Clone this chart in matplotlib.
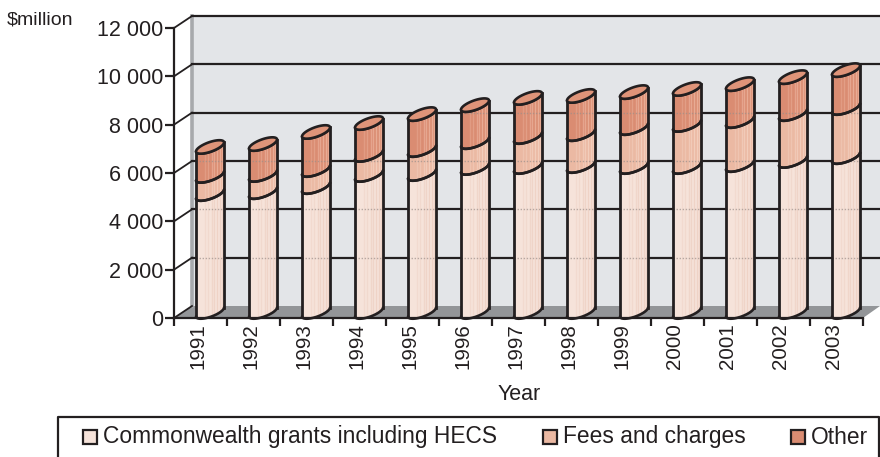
import numpy as np
import matplotlib
matplotlib.use("Agg")
import matplotlib.pyplot as plt
from matplotlib.patches import Polygon, Rectangle

plt.rcParams["font.family"] = ["Liberation Sans", "DejaVu Sans"]

# ── DATA ──────────────────────────────────────────────────────────────────────
years = [1991, 1992, 1993, 1994, 1995, 1996, 1997, 1998, 1999, 2000, 2001, 2002, 2003]
grants = [4880, 4960, 5170, 5670, 5710, 5960, 6000, 6040, 6000, 6000, 6080, 6250, 6410]
fees = [750, 710, 705, 830, 990, 1070, 1240, 1320, 1610, 1740, 1820, 1940, 2030]
other = [1200, 1280, 1575, 1320, 1490, 1530, 1620, 1580, 1490, 1490, 1530, 1530, 1570]
y_ticks = [0, 2000, 4000, 6000, 8000, 10000, 12000]
legend_labels = ["Commonwealth grants including HECS", "Fees and charges", "Other"]

# ── STYLE ─────────────────────────────────────────────────────────────────────
INK = "#231F20"
WALL = "#E3E5E8"
FLOOR = "#939598"
FILLS = ["#F6E3DA", "#EBB9A3", "#DA8C72"]
STRIPES = ["#EFD3C6", "#F2CDBB", "#E8AB94"]
W, H = 880, 457
PX_X = 53.0            # pixels per year slot
PX_Y = 290 / 12000     # pixels per $million
DEPTH_X = 18 / PX_X
DEPTH_Y = 12 / PX_Y
HALF_W = 14 / PX_X
SKEW = 4.5 / PX_Y
MINOR = 5.0 / PX_Y

fig = plt.figure(figsize=(W / 100, H / 100), dpi=100)
ax = fig.add_axes([174 / W, 1 - 318 / H, 689 / W, 290 / H])
ax.set_xlim(0, 13)
ax.set_ylim(0, 12000)
ax.patch.set_visible(False)

x_end = 13 + 17 / PX_X   # wall runs out to the picture edge

# ── WALLS AND GRID ────────────────────────────────────────────────────────────
ax.add_patch(Rectangle((DEPTH_X, DEPTH_Y), x_end - DEPTH_X, 12000, fc=WALL, ec="none", zorder=0, clip_on=False))
ax.add_patch(Polygon([(0, 0), (DEPTH_X, DEPTH_Y), (x_end, DEPTH_Y), (13, 0)], fc=FLOOR, ec="none", zorder=1, clip_on=False))
ax.plot([DEPTH_X, DEPTH_X], [DEPTH_Y, 12000 + DEPTH_Y], color="#A7A9AC", lw=2.6, zorder=1.5, clip_on=False)
for v in y_ticks:
    if v > 0:
        ax.plot([DEPTH_X, x_end], [v + DEPTH_Y, v + DEPTH_Y], color=INK, lw=1.6, zorder=2, clip_on=False)
    ax.plot([0, DEPTH_X], [v, v + DEPTH_Y], color=INK, lw=1.3, zorder=2, clip_on=False)


# ── CYLINDERS ─────────────────────────────────────────────────────────────────
def arc(cx, v, front=True):
    t = np.linspace(np.pi, 2 * np.pi, 40) if front else np.linspace(0, np.pi, 40)
    return cx + HALF_W * np.cos(t), v + MINOR * np.sin(t) + SKEW * np.cos(t)


z = 3
for i, year in enumerate(years):
    cx = i + 0.5 + DEPTH_X / 2 + 0.01
    floor_y = DEPTH_Y / 2
    levels = np.cumsum([0, grants[i], fees[i], other[i]]) + floor_y
    for k in range(3):
        lo, hi = levels[k], levels[k + 1]
        xa, ya = arc(cx, lo)
        xb, yb = arc(cx, hi)
        body = Polygon(np.r_[np.c_[xa, ya], np.c_[xb, yb][::-1]], fc=FILLS[k], ec="none", zorder=z, clip_on=False)
        ax.add_patch(body)
        # faint vertical shading on the cylinder
        for off, a in [(-0.1, 0.5), (-0.04, 0.6), (0.03, 0.8), (0.08, 0.9), (0.13, 1.0), (0.18, 1.0), (0.22, 0.9)]:
            ln, = ax.plot([cx + off, cx + off], [lo - 400, hi + 400], color=STRIPES[k], lw=1.0, alpha=a, zorder=z + 0.1, clip_on=True)
            ln.set_clip_path(body)
        # back-wall gridlines showing faintly through
        for v in y_ticks[1:]:
            if lo < v + DEPTH_Y < hi:
                ln, = ax.plot([cx - HALF_W, cx + HALF_W], [v + DEPTH_Y] * 2, color="#9C8F8A", lw=1.0, ls=(0, (1, 1.2)), alpha=0.7, zorder=z + 0.2)
                ln.set_clip_path(body)
        ax.plot(xa, ya, color=INK, lw=1.9, zorder=z + 0.4, clip_on=False, solid_capstyle="round")
        ax.plot(xb, yb, color=INK, lw=1.9, zorder=z + 0.4, clip_on=False, solid_capstyle="round")
    top = levels[-1]
    xf, yf = arc(cx, top)
    xk, yk = arc(cx, top, front=False)
    ax.add_patch(Polygon(np.r_[np.c_[xf, yf], np.c_[xk[::-1], yk[::-1]][::-1]], closed=True, fc="#DF9479", ec=INK, lw=1.9, zorder=z + 0.5, clip_on=False))
    for side in (-1, 1):
        ax.plot([cx + side * HALF_W] * 2, [floor_y + side * SKEW, top + side * SKEW], color=INK, lw=2.0, zorder=z + 0.45, clip_on=False)
    z += 1

# ── AXES ──────────────────────────────────────────────────────────────────────
for s in ("top", "right"):
    ax.spines[s].set_visible(False)
for s in ("left", "bottom"):
    ax.spines[s].set_linewidth(1.6)
    ax.spines[s].set_color(INK)
    ax.spines[s].set_zorder(40)

ax.set_yticks(y_ticks)
ax.set_yticklabels([f"{v:,}".replace(",", " ") for v in y_ticks], fontsize=15.5, color=INK)
ax.tick_params(axis="y", length=6.5, width=1.6, color=INK, pad=1)
ax.set_xticks(range(14))
ax.set_xticklabels([])
ax.tick_params(axis="x", which="major", length=5.5, width=1.6, color=INK)
ax.set_xticks(np.arange(13) + 0.45, minor=True)
ax.set_xticklabels(years, minor=True, rotation=90, fontsize=14.8, color=INK)
ax.tick_params(axis="x", which="minor", length=0, pad=3.5)

fig.text(519 / W, 1 - 394 / H, "Year", ha="center", va="center", fontsize=15.5, color=INK)
fig.text(7 / W, 1 - 20 / H, "$million", ha="left", va="center", fontsize=14, color=INK)

# ── LEGEND ────────────────────────────────────────────────────────────────────
fig.add_artist(plt.Line2D([58 / W, 58 / W, 879 / W, 879 / W], [0, 1 - 417 / H, 1 - 417 / H, 0], color=INK, lw=1.6))
swatch_x = [83, 543, 791]
text_x = [103, 563, 811]
for sx, tx, label, col in zip(swatch_x, text_x, legend_labels, FILLS):
    fig.add_artist(Rectangle((sx / W, 1 - 444 / H), 14 / W, 14 / H, fc=col, ec=INK, lw=1.6, transform=fig.transFigure))
    fig.text(tx / W, 1 - 437 / H, label, ha="left", va="center", fontsize=16.4, color=INK)

fig.savefig("out.png", dpi=100)
